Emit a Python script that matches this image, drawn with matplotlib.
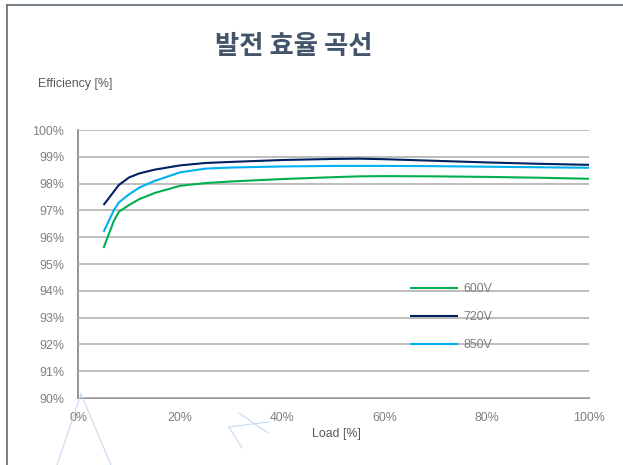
import matplotlib
matplotlib.use("Agg")
import matplotlib.pyplot as plt
from matplotlib.lines import Line2D

# ---- data ----
load = [5, 6, 7, 8, 10, 12, 15, 20, 25, 30, 40, 50, 55, 60, 70, 80, 90, 100]
eff_600 = [95.6, 96.1, 96.6, 96.95, 97.2, 97.42, 97.65, 97.92, 98.02, 98.08, 98.17, 98.24, 98.27, 98.28, 98.27, 98.25, 98.22, 98.18]
eff_720 = [97.2, 97.45, 97.7, 97.95, 98.23, 98.38, 98.52, 98.68, 98.77, 98.81, 98.88, 98.92, 98.93, 98.91, 98.85, 98.79, 98.74, 98.7]
eff_850 = [96.2, 96.6, 97.0, 97.3, 97.6, 97.85, 98.1, 98.42, 98.56, 98.6, 98.64, 98.66, 98.66, 98.66, 98.65, 98.63, 98.61, 98.59]
series_labels = ["600V", "720V", "850V"]
x_ticks = [0, 20, 40, 60, 80, 100]
y_ticks = [90, 91, 92, 93, 94, 95, 96, 97, 98, 99, 100]
title = "발전 효율 곡선"

colors = ["#00B050", "#002060", "#00B0F0"]
W, H = 623, 465
fig = plt.figure(figsize=(W / 100, H / 100), dpi=100)
fam = ["Liberation Sans", "DejaVu Sans"]
FS = 8.9

ax = fig.add_axes([78 / W, 1 - 398 / H, (589 - 78) / W, (398 - 130) / H])
ax.set_axisbelow(False)
for vals, c, lab in zip([eff_600, eff_720, eff_850], colors, series_labels):
    ax.plot(load, vals, color=c, lw=1.5, label=lab, solid_capstyle="butt", zorder=3)

ax.set_xlim(0, 100)
ax.set_ylim(90, 100)
ax.set_xticks(x_ticks)
ax.set_xticklabels([f"{t}%" for t in x_ticks], fontfamily=fam)
ax.set_yticks(y_ticks)
ax.set_yticklabels([f"{t}%" for t in y_ticks], fontfamily=fam)
ax.tick_params(length=0, labelsize=FS, colors="#7f7f7f", pad=10)
ax.tick_params(axis="x", pad=10)
ax.grid(axis="y", color="#b8b8b8", lw=1.3)
for s in ["top", "right"]:
    ax.spines[s].set_visible(False)
for s in ["left", "bottom"]:
    ax.spines[s].set_color("#8c8c8c")
    ax.spines[s].set_linewidth(1.3)

leg = ax.legend(loc="upper left", bbox_to_anchor=(410 / W, 1 - 283 / H),
                bbox_transform=fig.transFigure, frameon=False,
                handlelength=3.85, handletextpad=0.45, labelspacing=1.3,
                borderpad=0, borderaxespad=0,
                prop={"family": fam, "size": FS})
leg.set_zorder(4)
for t in leg.get_texts():
    t.set_color("#7f7f7f")

fig.text(294 / W, 1 - 46 / H, title, ha="center", va="center",
         fontsize=19, fontweight="bold", color="#44546A",
         family=["Noto Sans CJK KR", "DejaVu Sans"])
fig.text(38 / W, 1 - 84 / H, "Efficiency [%]", ha="left", va="center",
         fontsize=FS, color="#595959", family=fam)
fig.text(336 / W, 1 - 434 / H, "Load [%]", ha="center", va="center",
         fontsize=FS, color="#595959", family=fam)

# frame border
fig.add_artist(Line2D([7 / W, 1], [1 - 5 / H, 1 - 5 / H], transform=fig.transFigure,
                      color="#5f6b75", lw=1.2))
fig.add_artist(Line2D([7 / W, 7 / W], [0, 1 - 5 / H], transform=fig.transFigure,
                      color="#5f6b75", lw=1.2))

# faint selection artifacts
art = "#c5d9f1"
def fl(x0, y0, x1, y1):
    fig.add_artist(Line2D([x0 / W, x1 / W], [1 - y0 / H, 1 - y1 / H],
                          transform=fig.transFigure, color=art, lw=0.8))
fl(81, 394, 57, 465)
fl(81, 394, 111, 465)
fl(239, 413, 268, 433)
fl(229, 427, 268, 422)
fl(229, 427, 242, 448)

fig.savefig("out.png", dpi=100)
